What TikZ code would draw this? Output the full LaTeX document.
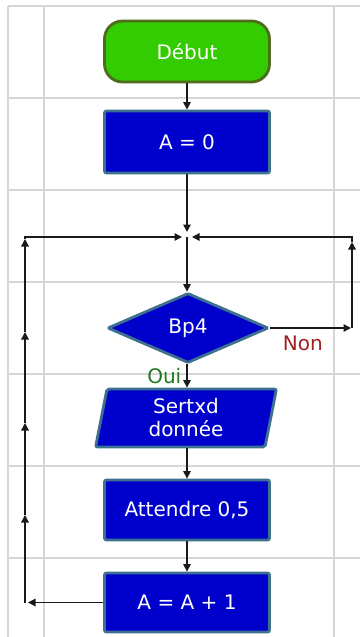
\documentclass[tikz,border=0pt]{standalone}
\usepackage{fontspec}
\setmainfont{DejaVu Sans}
\usepackage{tikz}
\usetikzlibrary{arrows.meta,positioning,shapes.geometric}
\definecolor{pbgreen}{HTML}{33CC00}
\definecolor{pbolive}{HTML}{4E6B1E}
\definecolor{pbblue}{HTML}{0000CC}
\definecolor{pbedge}{HTML}{3E7090}
\definecolor{pbgrid}{HTML}{D6D6D6}
\definecolor{pboui}{HTML}{1E7A1E}
\definecolor{pbnon}{HTML}{A01E1E}
\definecolor{pbink}{HTML}{1A1A1A}

\begin{document}
\begin{tikzpicture}[
  x=1pt,y=-1pt,
  every node/.style={font=\fontsize{20}{23}\selectfont,align=center,text=white},
  grid/.style={draw=pbgrid,line width=1.5pt},
  box/.style={draw=pbedge,fill=pbblue,line width=2.8pt,rounded corners=2pt,minimum width=165pt,minimum height=60pt},
  start/.style={box,draw=pbolive,fill=pbgreen,rounded corners=18pt,minimum height=61pt},
  test/.style={box,diamond,rounded corners=1pt,minimum width=161pt,minimum height=70pt,inner sep=0pt},
  io/.style={box,trapezium,trapezium left angle=82,trapezium right angle=98,trapezium stretches,minimum width=182pt,minimum height=58pt,inner sep=0pt},
  arrow/.style={-{Triangle[length=7.5pt,width=7.5pt]},line width=1.4pt,color=pbink},
  oui/.style={text=pboui,inner sep=1pt},
  non/.style={text=pbnon,inner sep=1pt}
]
\useasboundingbox (0,0) rectangle (360,637);
% grid of the editor
\foreach \y in {6,98,...,558} \draw[grid] (8,\y) -- (360,\y);
\foreach \x in {8,44,334} \draw[grid] (\x,6) -- (\x,637);

\node[start] (debut) at (187,51.5) {Début};
\node[box,minimum height=62pt] (a0) at (187,142) {A = 0};
\coordinate (join) at (187,237);
\node[test] (bp4) at (188,328) {Bp4};
\node[io] (sertxd) at (186,418) {Sertxd\\donnée};
\node[box] (att) at (187,510) {Attendre 0,5};
\node[box,minimum height=59pt] (aa1) at (187,602.5) {A = A + 1};

\draw[arrow] (debut) -- (a0);
\draw[arrow,shorten >=5pt] (a0) -- (join);
\draw[arrow] (join) -- (bp4.north -| join);
\draw[arrow] (bp4.south -| join) -- node[oui,left=4pt,pos=0.5]{Oui} (sertxd.north -| join);
\draw[arrow] (sertxd.south -| att) -- (att);
\draw[arrow] (att) -- (aa1);

% loop back on the left
\coordinate (lb) at (aa1.west -| 25,0);
\foreach \y [count=\i] in {515,423,332,239} \coordinate (up\i) at (25,\y);
\draw[arrow,shorten >=3pt] (aa1.west) -- (lb);
\foreach \a/\b in {lb/up1,up1/up2,up2/up3,up3/up4} \draw[arrow] (\a) -- (\b);
\draw[arrow,shorten >=5pt] (up4) |- (join);

% Non branch on the right
\coordinate (rb) at (bp4.east -| 352,0);
\coordinate (rt) at (352,242);
\draw[arrow,shorten >=1pt] (bp4.east) -- node[non,below=6pt,pos=0.4]{Non} (rb);
\draw[arrow] (rb) -- (rt);
\draw[arrow,shorten >=5pt] (rt) |- (join);
\end{tikzpicture}
\end{document}
